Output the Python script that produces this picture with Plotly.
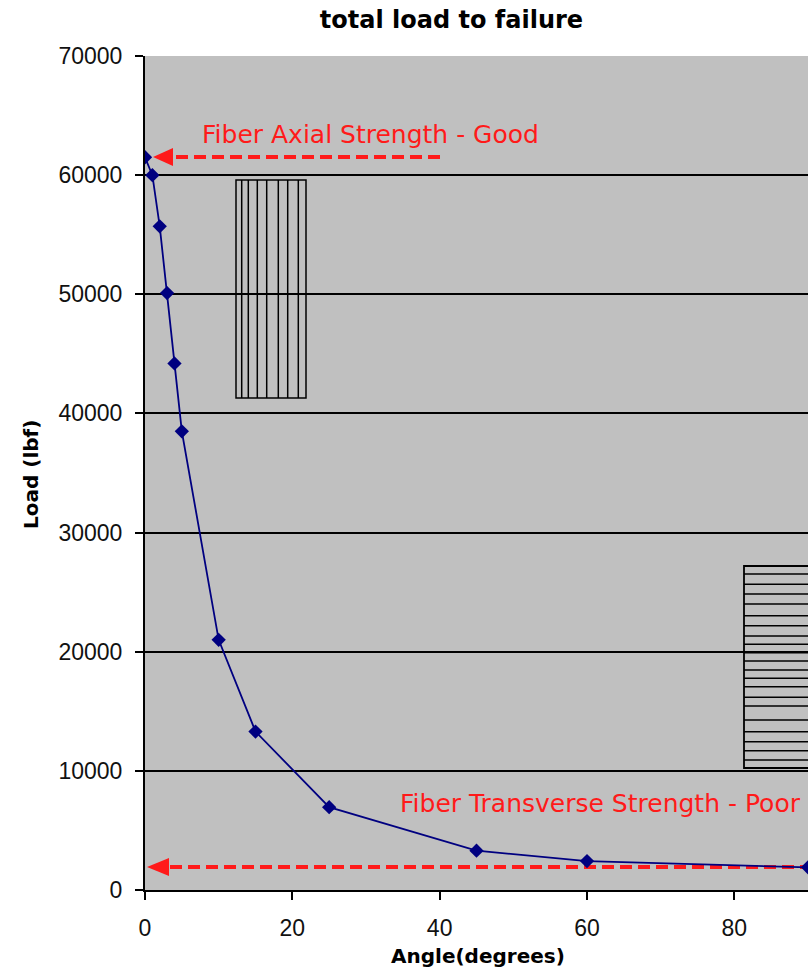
import plotly.graph_objects as go

# ---- data ----
angles = [0, 1, 2, 3, 4, 5, 10, 15, 25, 45, 60, 90]
loads = [61500, 60000, 55700, 50100, 44200, 38500, 21000, 13300, 6950, 3300, 2430, 1900]
y_ticks = [0, 10000, 20000, 30000, 40000, 50000, 60000, 70000]
x_ticks = [0, 20, 40, 60, 80]

# ---- layout geometry (pixels of the 808x971 picture) ----
W, H = 808, 971
L, R, T, B = 145, 808, 56, 890
XMAX, YMAX = 90, 70000


def px2x(px):
    return (px - L) / (R - L) * XMAX


def px2y(py):
    return (B - py) / (B - T) * YMAX


fig = go.Figure()

# dashed red arrows (decoration)
red = "#FF1A1A"
for (tail_px, base_px, tip_px, ypx) in [(440, 170, 153, 157), (830, 166, 147, 867)]:
    fig.add_trace(go.Scatter(
        x=[px2x(tail_px), px2x(base_px)], y=[px2y(ypx), px2y(ypx)],
        mode="lines", line=dict(color=red, width=4, dash="12px,6px"),
        hoverinfo="skip", showlegend=False))
    fig.add_shape(type="path", xref="x", yref="y",
                  path=f"M {px2x(tip_px)},{px2y(ypx)} L {px2x(base_px + 3)},{px2y(ypx - 9)} "
                       f"L {px2x(base_px + 3)},{px2y(ypx + 9)} Z",
                  fillcolor=red, line=dict(color=red, width=0), layer="above")

# main series
fig.add_trace(go.Scatter(
    x=angles, y=loads, mode="lines+markers",
    line=dict(color="#000080", width=1.8),
    marker=dict(symbol="diamond", size=11, color="#000080"),
    showlegend=False))

# hatched rectangles (decoration)
shapes = []
# vertical-stripe box
vx0, vx1, vy0, vy1 = 236, 306, 180, 398
shapes.append(dict(type="rect", xref="x", yref="y", x0=px2x(vx0), x1=px2x(vx1),
                   y0=px2y(vy1), y1=px2y(vy0), line=dict(color="black", width=1.5)))
for xp in [241.7, 248.3, 257.3, 266.7, 278.3, 287.7, 298.3]:
    shapes.append(dict(type="line", xref="x", yref="y", x0=px2x(xp), x1=px2x(xp),
                       y0=px2y(vy1), y1=px2y(vy0), line=dict(color="black", width=1.5)))
# horizontal-stripe box
hx0, hx1, hy0, hy1 = 744, 830, 566, 768
shapes.append(dict(type="rect", xref="x", yref="y", x0=px2x(hx0), x1=px2x(hx1),
                   y0=px2y(hy1), y1=px2y(hy0), line=dict(color="black", width=1.8)))
for yp in [574, 584.3, 594, 604, 615.7, 625.7, 636, 644.3, 652.7, 661, 670, 678.3,
           686.7, 697.3, 706, 720, 731.7, 741.7, 750.7, 760]:
    shapes.append(dict(type="line", xref="x", yref="y", x0=px2x(hx0), x1=px2x(hx1),
                       y0=px2y(yp), y1=px2y(yp), line=dict(color="black", width=1.5)))
for s in shapes:
    fig.add_shape(**s)

ann_font = dict(family="DejaVu Sans", size=25, color=red)
annotations = [
    dict(x=px2x(370), y=px2y(134), xref="x", yref="y", text="Fiber Axial Strength - Good",
         showarrow=False, font=ann_font, xanchor="center", yanchor="middle"),
    dict(x=px2x(600), y=px2y(803), xref="x", yref="y", text="Fiber Transverse Strength - Poor",
         showarrow=False, font=ann_font, xanchor="center", yanchor="middle"),
    dict(x=(477.5 - L) / (R - L), y=(B - 956) / (B - T), xref="paper", yref="paper",
         text="<b>Angle(degrees)</b>", showarrow=False,
         font=dict(family="DejaVu Sans", size=20, color="black"),
         xanchor="center", yanchor="middle"),
    dict(x=(31 - L) / (R - L), y=(B - 475) / (B - T), xref="paper", yref="paper",
         text="<b>Load (lbf)</b>", showarrow=False, textangle=-90,
         font=dict(family="DejaVu Sans", size=20, color="black"),
         xanchor="center", yanchor="middle"),
]

fig.update_layout(
    width=W, height=H,
    margin=dict(l=L, r=W - R, t=T, b=H - B),
    paper_bgcolor="white", plot_bgcolor="#C0C0C0",
    title=dict(text="<b>total load to failure</b>", x=451.5 / W, xanchor="center",
               y=1 - 20 / H, yanchor="middle",
               font=dict(family="DejaVu Sans", size=24, color="black")),
    annotations=annotations,
    showlegend=False,
)
fig.update_xaxes(range=[0, XMAX], tickvals=x_ticks, ticktext=[str(v) for v in x_ticks],
                 showgrid=False, zeroline=False, showline=True, linecolor="black", linewidth=2,
                 ticks="outside", ticklen=8, tickwidth=2, tickcolor="black",
                 tickfont=dict(family="Liberation Sans", size=23, color="#111"),
                 ticklabelstandoff=8)
fig.update_yaxes(range=[0, YMAX], tickvals=y_ticks, ticktext=[str(v) for v in y_ticks],
                 showgrid=True, gridcolor="black", gridwidth=1.5, zeroline=False,
                 showline=True, linecolor="black", linewidth=2,
                 ticks="outside", ticklen=8, tickwidth=2, tickcolor="black",
                 tickfont=dict(family="Liberation Sans", size=23, color="#111"),
                 ticklabelstandoff=8)

fig.write_html(
    "out.html",
    config={"displayModeBar": False},
    post_script="document.body.style.margin='0';document.body.style.padding='0';"
                "document.body.style.overflow='hidden';",
)
